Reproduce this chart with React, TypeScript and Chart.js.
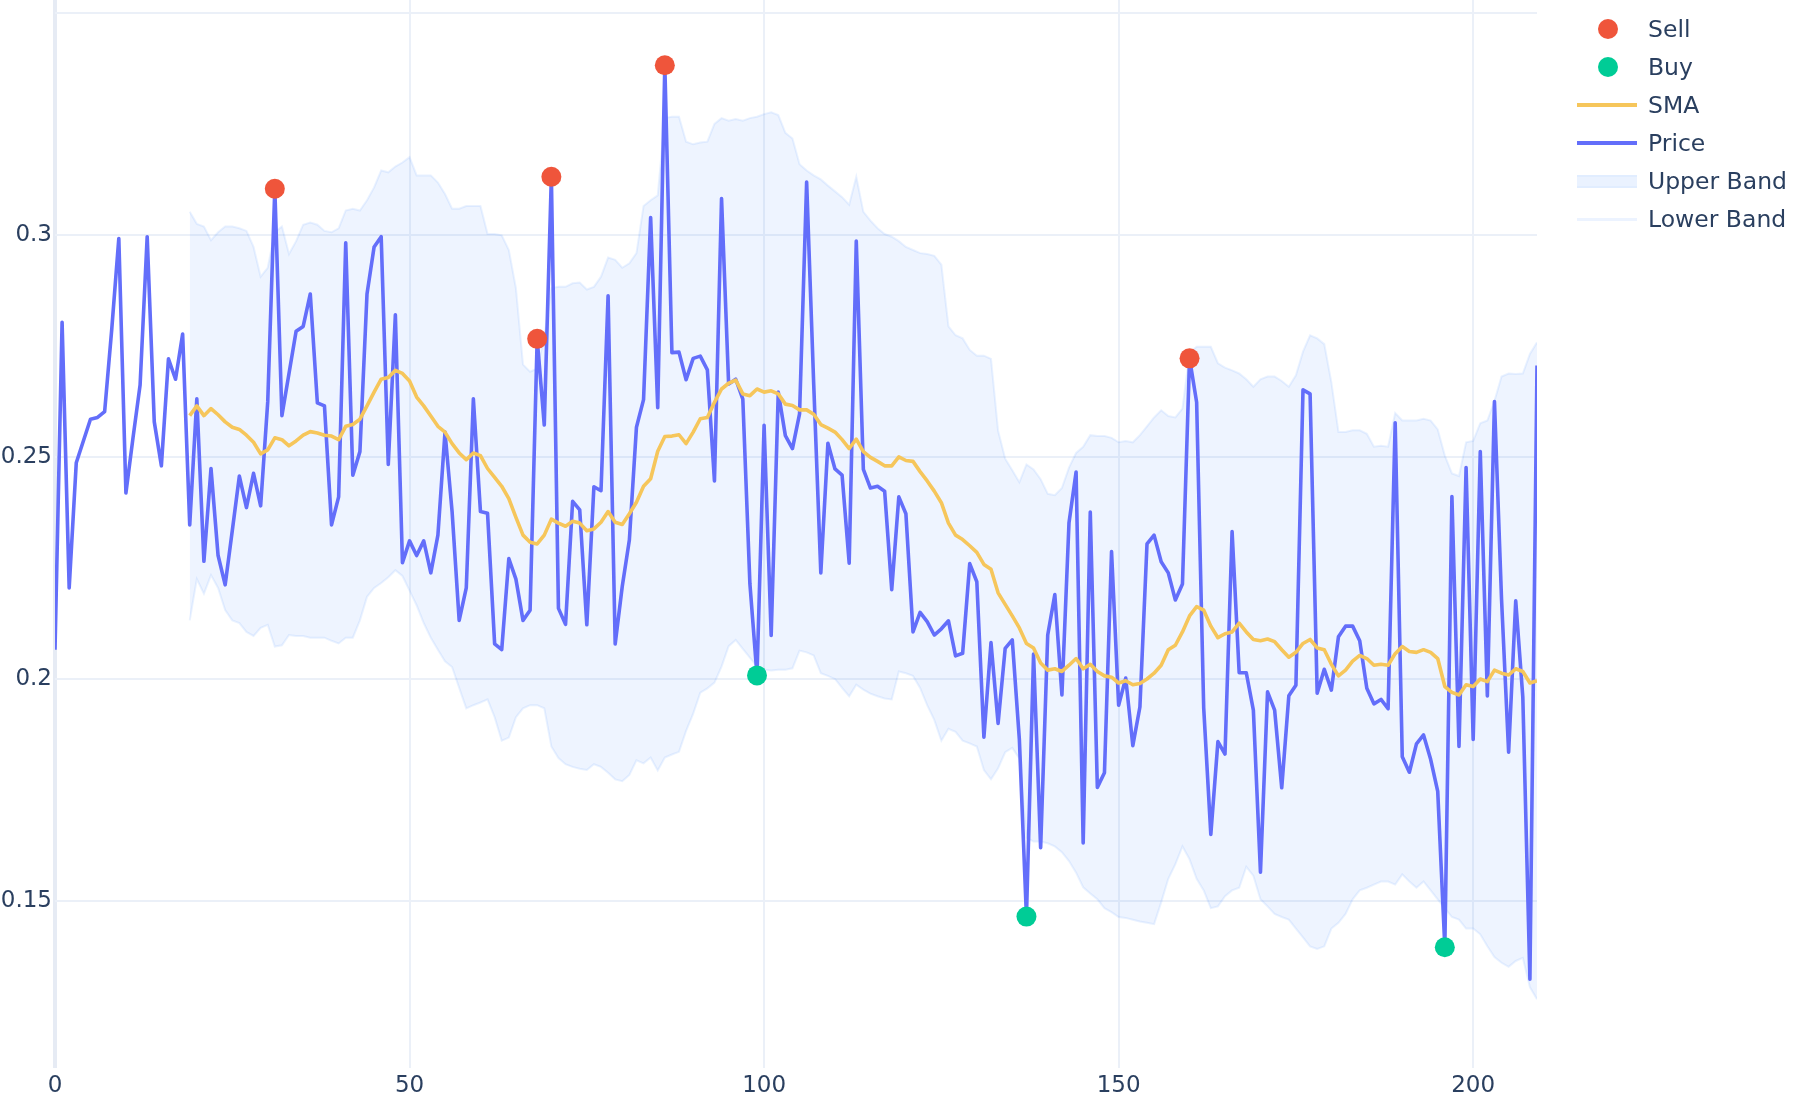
import React, { useEffect, useRef } from "react";
import { Chart, registerables } from "chart.js";

Chart.register(...registerables);

// ---- data ----
const priceValues = [
  0.2067, 0.2804, 0.2206, 0.2488, 0.2537, 0.2586, 0.2590, 0.2603, 0.2788, 0.2993,
  0.2420, 0.2544, 0.2663, 0.2997, 0.2580, 0.2481, 0.2722, 0.2676, 0.2778, 0.2348,
  0.2632, 0.2266, 0.2475, 0.2279, 0.2213, 0.2335, 0.2458, 0.2387, 0.2464, 0.2391,
  0.2625, 0.3105, 0.2594, 0.2689, 0.2784, 0.2795, 0.2868, 0.2623, 0.2616, 0.2348,
  0.2411, 0.2983, 0.2460, 0.2513, 0.2868, 0.2974, 0.2997, 0.2484, 0.2821, 0.2263,
  0.2312, 0.2279, 0.2312, 0.2240, 0.2325, 0.2557, 0.2378, 0.2133, 0.2206, 0.2632,
  0.2378, 0.2374, 0.2080, 0.2067, 0.2272, 0.2226, 0.2133, 0.2156, 0.2767, 0.2573,
  0.3132, 0.2160, 0.2124, 0.2401, 0.2382, 0.2123, 0.2434, 0.2425, 0.2864, 0.2080,
  0.2210, 0.2314, 0.2568, 0.2630, 0.3040, 0.2612, 0.3383, 0.2736, 0.2737, 0.2675,
  0.2723, 0.2728, 0.2697, 0.2447, 0.3083, 0.2665, 0.2676, 0.2631, 0.2215, 0.2009,
  0.2572, 0.2099, 0.2647, 0.2549, 0.2520, 0.2598, 0.3120, 0.2664, 0.2240, 0.2532,
  0.2474, 0.2460, 0.2262, 0.2987, 0.2473, 0.2431, 0.2435, 0.2424, 0.2202, 0.2411,
  0.2373, 0.2107, 0.2151, 0.2130, 0.2100, 0.2114, 0.2132, 0.2053, 0.2059, 0.2261,
  0.2220, 0.1870, 0.2083, 0.1901, 0.2070, 0.2089, 0.1865, 0.1466, 0.2057, 0.1621,
  0.2100, 0.2191, 0.1965, 0.2353, 0.2467, 0.1632, 0.2377, 0.1757, 0.1790, 0.2288,
  0.1942, 0.2003, 0.1851, 0.1938, 0.2305, 0.2325, 0.2265, 0.2240, 0.2179, 0.2215,
  0.2723, 0.2624, 0.1935, 0.1651, 0.1860, 0.1832, 0.2333, 0.2015, 0.2015, 0.1931,
  0.1566, 0.1972, 0.1931, 0.1756, 0.1963, 0.1987, 0.2652, 0.2643, 0.1969, 0.2023,
  0.1976, 0.2096, 0.2120, 0.2120, 0.2087, 0.1980, 0.1945, 0.1955, 0.1934, 0.2578,
  0.1826, 0.1791, 0.1855, 0.1875, 0.1820, 0.1748, 0.1397, 0.2412, 0.1849, 0.2477,
  0.1865, 0.2513, 0.1963, 0.2626, 0.2180, 0.1836, 0.2177, 0.1960, 0.1325, 0.2707,
];

// SMA and bands start at index 19
const indicatorStart = 19;

const smaValues = [
  0.2594,
  0.2616, 0.2594, 0.2610, 0.2596, 0.2580, 0.2568, 0.2563, 0.2550, 0.2534, 0.2508,
  0.2517, 0.2544, 0.2540, 0.2526, 0.2537, 0.2550, 0.2558, 0.2555, 0.2550, 0.2548,
  0.2540, 0.2570, 0.2574, 0.2586, 0.2616, 0.2647, 0.2676, 0.2680, 0.2696, 0.2689,
  0.2672, 0.2636, 0.2616, 0.2593, 0.2570, 0.2557, 0.2531, 0.2510, 0.2495, 0.2510,
  0.2504, 0.2475, 0.2455, 0.2435, 0.2407, 0.2365, 0.2325, 0.2309, 0.2305, 0.2325,
  0.2361, 0.2352, 0.2345, 0.2356, 0.2352, 0.2335, 0.2339, 0.2354, 0.2378, 0.2354,
  0.2349, 0.2373, 0.2399, 0.2435, 0.2452, 0.2514, 0.2547, 0.2548, 0.2551, 0.2531,
  0.2557, 0.2587, 0.2590, 0.2624, 0.2654, 0.2667, 0.2674, 0.2643, 0.2639, 0.2654,
  0.2647, 0.2650, 0.2643, 0.2620, 0.2617, 0.2607, 0.2607, 0.2597, 0.2574, 0.2566,
  0.2557, 0.2540, 0.2520, 0.2541, 0.2513, 0.2500, 0.2491, 0.2481, 0.2481, 0.2501,
  0.2493, 0.2491, 0.2468, 0.2447, 0.2424, 0.2398, 0.2352, 0.2325, 0.2315, 0.2301,
  0.2286, 0.2259, 0.2248, 0.2195, 0.2169, 0.2143, 0.2116, 0.2081, 0.2071, 0.2037,
  0.2021, 0.2024, 0.2018, 0.2032, 0.2047, 0.2024, 0.2034, 0.2018, 0.2008, 0.2005,
  0.1992, 0.1997, 0.1988, 0.1991, 0.2001, 0.2014, 0.2032, 0.2067, 0.2077, 0.2107,
  0.2143, 0.2164, 0.2156, 0.2120, 0.2094, 0.2103, 0.2107, 0.2127, 0.2107, 0.2090,
  0.2087, 0.2091, 0.2085, 0.2067, 0.2050, 0.2061, 0.2081, 0.2090, 0.2071, 0.2067,
  0.2034, 0.2008, 0.2021, 0.2041, 0.2054, 0.2047, 0.2032, 0.2034, 0.2032, 0.2058,
  0.2074, 0.2063, 0.2061, 0.2067, 0.2061, 0.2047, 0.1984, 0.1971, 0.1965, 0.1988,
  0.1984, 0.2001, 0.1995, 0.2021, 0.2014, 0.2010, 0.2024, 0.2018, 0.1992, 0.1997,
];

const upperBandValues = [
  0.3053,
  0.3026, 0.3020, 0.2989, 0.3007, 0.3020, 0.3020, 0.3016, 0.3010, 0.2974, 0.2907,
  0.2927, 0.3007, 0.3020, 0.2958, 0.2987, 0.3024, 0.3029, 0.3024, 0.3010, 0.3007,
  0.3016, 0.3056, 0.3060, 0.3056, 0.3079, 0.3108, 0.3146, 0.3142, 0.3155, 0.3164,
  0.3176, 0.3135, 0.3135, 0.3135, 0.3119, 0.3093, 0.3060, 0.3060, 0.3066, 0.3066,
  0.3066, 0.3003, 0.3003, 0.3000, 0.2967, 0.2881, 0.2709, 0.2693, 0.2700, 0.2770,
  0.2881, 0.2884, 0.2884, 0.2892, 0.2894, 0.2878, 0.2884, 0.2907, 0.2950, 0.2945,
  0.2927, 0.2937, 0.2960, 0.3066, 0.3079, 0.3090, 0.3264, 0.3267, 0.3267, 0.3211,
  0.3205, 0.3209, 0.3211, 0.3251, 0.3264, 0.3258, 0.3262, 0.3258, 0.3264, 0.3267,
  0.3273, 0.3277, 0.3271, 0.3231, 0.3218, 0.3160, 0.3146, 0.3135, 0.3126, 0.3112,
  0.3099, 0.3086, 0.3069, 0.3132, 0.3053, 0.3033, 0.3016, 0.3003, 0.2997, 0.2987,
  0.2974, 0.2967, 0.2960, 0.2958, 0.2954, 0.2934, 0.2795, 0.2775, 0.2768, 0.2742,
  0.2729, 0.2729, 0.2722, 0.2560, 0.2497, 0.2471, 0.2444, 0.2484, 0.2473, 0.2451,
  0.2418, 0.2415, 0.2431, 0.2477, 0.2510, 0.2524, 0.2550, 0.2548, 0.2548, 0.2544,
  0.2534, 0.2537, 0.2534, 0.2550, 0.2570, 0.2590, 0.2606, 0.2593, 0.2590, 0.2610,
  0.2735, 0.2749, 0.2749, 0.2749, 0.2712, 0.2702, 0.2696, 0.2689, 0.2676, 0.2659,
  0.2676, 0.2682, 0.2682, 0.2672, 0.2659, 0.2685, 0.2738, 0.2775, 0.2768, 0.2755,
  0.2669, 0.2557, 0.2557, 0.2561, 0.2561, 0.2553, 0.2524, 0.2526, 0.2524, 0.2600,
  0.2583, 0.2583, 0.2583, 0.2587, 0.2583, 0.2563, 0.2504, 0.2464, 0.2458, 0.2534,
  0.2537, 0.2577, 0.2583, 0.2627, 0.2682, 0.2689, 0.2688, 0.2689, 0.2733, 0.2759,
];

const lowerBandValues = [
  0.2133,
  0.2226, 0.2193, 0.2235, 0.2206, 0.2156, 0.2133, 0.2127, 0.2107, 0.2098, 0.2116,
  0.2123, 0.2074, 0.2077, 0.2100, 0.2098, 0.2098, 0.2094, 0.2094, 0.2094, 0.2087,
  0.2081, 0.2094, 0.2094, 0.2133, 0.2186, 0.2206, 0.2217, 0.2230, 0.2246, 0.2233,
  0.2200, 0.2167, 0.2127, 0.2094, 0.2067, 0.2041, 0.2028, 0.1981, 0.1935, 0.1942,
  0.1948, 0.1955, 0.1915, 0.1862, 0.1869, 0.1915, 0.1935, 0.1942, 0.1942, 0.1935,
  0.1849, 0.1823, 0.1809, 0.1803, 0.1799, 0.1796, 0.1809, 0.1803, 0.1790, 0.1775,
  0.1771, 0.1785, 0.1818, 0.1811, 0.1824, 0.1795, 0.1824, 0.1831, 0.1837, 0.1884,
  0.1923, 0.1970, 0.1980, 0.1993, 0.2029, 0.2075, 0.2089, 0.2069, 0.2049, 0.2029,
  0.2022, 0.2020, 0.2022, 0.2022, 0.2025, 0.2065, 0.2061, 0.2054, 0.2014, 0.2008,
  0.2001, 0.1981, 0.1962, 0.1988, 0.1977, 0.1968, 0.1962, 0.1957, 0.1955, 0.2018,
  0.2014, 0.2008, 0.1981, 0.1942, 0.1909, 0.1862, 0.1889, 0.1882, 0.1862, 0.1856,
  0.1849, 0.1796, 0.1775, 0.1800, 0.1836, 0.1846, 0.1822, 0.1644, 0.1635, 0.1635,
  0.1631, 0.1624, 0.1611, 0.1591, 0.1565, 0.1532, 0.1518, 0.1505, 0.1485, 0.1476,
  0.1465, 0.1463, 0.1459, 0.1455, 0.1452, 0.1449, 0.1498, 0.1551, 0.1584, 0.1624,
  0.1595, 0.1551, 0.1525, 0.1485, 0.1489, 0.1512, 0.1525, 0.1531, 0.1578, 0.1558,
  0.1505, 0.1489, 0.1472, 0.1465, 0.1459, 0.1439, 0.1419, 0.1399, 0.1393, 0.1399,
  0.1439, 0.1452, 0.1472, 0.1505, 0.1525, 0.1531, 0.1538, 0.1545, 0.1545, 0.1538,
  0.1561, 0.1545, 0.1531, 0.1545, 0.1525, 0.1505, 0.1485, 0.1465, 0.1459, 0.1439,
  0.1439, 0.1426, 0.1399, 0.1375, 0.1362, 0.1353, 0.1366, 0.1373, 0.1307, 0.1280,
];

const sellIndices = [31, 68, 70, 86, 160];
const buyIndices = [99, 137, 196];

const xTickValues = [0, 50, 100, 150, 200];
const yTickValues = [0.15, 0.2, 0.25, 0.3, 0.35];
const hiddenYTickLabels = [0.35];

const seriesNames = ["Sell", "Buy", "SMA", "Price", "Upper Band", "Lower Band"];

// ---- styles ----
const COLORS = {
  sell: "#EF553B",
  buy: "#00CC96",
  sma: "#F6C65B",
  price: "#636EFA",
  bandFill: "rgba(68,138,255,0.09)",
  bandLine: "rgba(68,138,255,0.11)",
  grid: "#EBF0F8",
  zero: "#E6EBF4",
  text: "#2a3f5f",
};
const FONT = "'DejaVu Sans', 'Open Sans', sans-serif";

const toPoints = (vals: number[], start: number) =>
  vals.map((v, k) => ({ x: start + k, y: v }));

export default function App() {
  const canvasRef = useRef<HTMLCanvasElement | null>(null);

  useEffect(() => {
    const canvas = canvasRef.current;
    if (!canvas) return;

    const sellPoints = sellIndices.map((i) => ({ x: i, y: priceValues[i] }));
    const buyPoints = buyIndices.map((i) => ({ x: i, y: priceValues[i] }));

    const chart = new Chart(canvas, {
      type: "line",
      data: {
        datasets: [
          {
            label: seriesNames[0],
            data: sellPoints,
            showLine: false,
            pointRadius: 10,
            pointHoverRadius: 10,
            pointBackgroundColor: COLORS.sell,
            pointBorderWidth: 0,
            borderColor: COLORS.sell,
          },
          {
            label: seriesNames[1],
            data: buyPoints,
            showLine: false,
            pointRadius: 10,
            pointHoverRadius: 10,
            pointBackgroundColor: COLORS.buy,
            pointBorderWidth: 0,
            borderColor: COLORS.buy,
          },
          {
            label: seriesNames[2],
            data: toPoints(smaValues, indicatorStart),
            borderColor: COLORS.sma,
            borderWidth: 3.6,
            pointRadius: 0,
            borderJoinStyle: "round",
            fill: false,
          },
          {
            label: seriesNames[3],
            data: toPoints(priceValues, 0),
            borderColor: COLORS.price,
            borderWidth: 3.6,
            pointRadius: 0,
            borderJoinStyle: "round",
            fill: false,
          },
          {
            label: seriesNames[4],
            data: toPoints(upperBandValues, indicatorStart),
            borderColor: COLORS.bandLine,
            backgroundColor: COLORS.bandFill,
            borderWidth: 2,
            pointRadius: 0,
            fill: "+1",
          },
          {
            label: seriesNames[5],
            data: toPoints(lowerBandValues, indicatorStart),
            borderColor: COLORS.bandLine,
            borderWidth: 2,
            pointRadius: 0,
            fill: false,
          },
        ],
      },
      options: {
        responsive: false,
        animation: false,
        devicePixelRatio: 1,
        layout: { autoPadding: false, padding: { left: 0, right: 263, top: 0, bottom: 0 } },
        plugins: {
          legend: { display: false },
          tooltip: { enabled: false },
        },
        elements: { line: { tension: 0 } },
        scales: {
          x: {
            type: "linear",
            min: 0,
            max: 209,
            afterBuildTicks: (scale: any) => {
              scale.ticks = xTickValues.map((v) => ({ value: v }));
            },
            afterFit: (scale: any) => {
              scale.height = 32;
              scale.paddingLeft = 0;
              scale.paddingRight = 0;
            },
            grid: {
              color: (ctx: any) => (ctx.tick && ctx.tick.value === 0 ? COLORS.zero : COLORS.grid),
              lineWidth: (ctx: any) => (ctx.tick && ctx.tick.value === 0 ? 4 : 2),
              drawTicks: false,
            },
            border: { display: false },
            ticks: {
              color: COLORS.text,
              font: { family: FONT, size: 23 },
              padding: 4,
              maxRotation: 0,
              autoSkip: false,
              callback: (v: any) => String(v),
            },
          },
          y: {
            type: "linear",
            min: 0.1125,
            max: 0.353,
            afterBuildTicks: (scale: any) => {
              scale.ticks = yTickValues.map((v) => ({ value: v }));
            },
            afterFit: (scale: any) => {
              scale.width = 55;
              scale.paddingTop = 0;
              scale.paddingBottom = 0;
            },
            grid: {
              color: COLORS.grid,
              lineWidth: 2,
              drawTicks: false,
            },
            border: { display: false },
            ticks: {
              color: COLORS.text,
              font: { family: FONT, size: 23 },
              padding: 3,
              autoSkip: false,
              callback: (v: any) =>
                hiddenYTickLabels.some((h) => Math.abs(h - v) < 1e-9) ? "" : String(v),
            },
          },
        },
      },
    });

    return () => chart.destroy();
  }, []);

  const legendRowTop = [29, 67, 105, 143, 181, 219];
  const textStyle: React.CSSProperties = {
    position: "absolute",
    left: 1648,
    fontFamily: FONT,
    fontSize: 23.5,
    color: COLORS.text,
    lineHeight: "28px",
    whiteSpace: "nowrap",
  };
  const symbols: React.ReactNode[] = [
    <div style={{ position: "absolute", left: 1598, top: -10, width: 20, height: 20, borderRadius: 10, background: COLORS.sell }} />,
    <div style={{ position: "absolute", left: 1598, top: -10, width: 20, height: 20, borderRadius: 10, background: COLORS.buy }} />,
    <div style={{ position: "absolute", left: 1577, top: -2, width: 60, height: 4, background: COLORS.sma }} />,
    <div style={{ position: "absolute", left: 1577, top: -2, width: 60, height: 4, background: COLORS.price }} />,
    <div style={{ position: "absolute", left: 1577, top: -6, width: 60, height: 13, background: "rgba(68,138,255,0.11)", borderTop: "2px solid rgba(68,138,255,0.05)", borderBottom: "2px solid rgba(68,138,255,0.05)", boxSizing: "border-box" }} />,
    <div style={{ position: "absolute", left: 1577, top: -1, width: 60, height: 3, background: "rgba(68,138,255,0.10)" }} />,
  ];

  return (
    <div style={{ position: "absolute", left: 0, top: 0, width: 1800, height: 1100, background: "#fff" }}>
      <canvas ref={canvasRef} width={1800} height={1100} style={{ position: "absolute", left: 0, top: 0, width: 1800, height: 1100 }} />
      {seriesNames.map((name, k) => (
        <div key={name} style={{ position: "absolute", left: 0, top: legendRowTop[k], width: 0, height: 0 }}>
          {symbols[k]}
          <div style={{ ...textStyle, left: 1648, top: -14 }}>{name}</div>
        </div>
      ))}
    </div>
  );
}
